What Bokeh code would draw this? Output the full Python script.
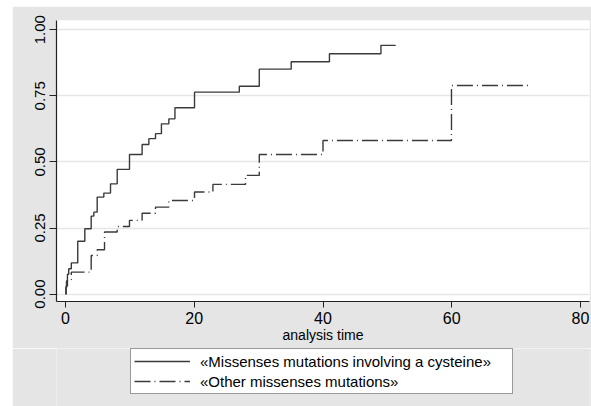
from bokeh.plotting import figure
from bokeh.models import Range1d, FixedTicker, Legend, LegendItem, Spacer
from bokeh.layouts import column, row
from bokeh.embed import file_html
from bokeh.resources import INLINE

# Data (Kaplan-Meier failure estimates)
cys_time = [0, 0.05, 0.15, 0.3, 0.5, 0.9, 1.9, 3.0, 3.99, 4.4, 4.92, 5.95, 6.99, 8.03,
            9.94, 11.9, 12.95, 13.98, 14.9, 16.05, 17.0, 20.04, 27.0, 30.1, 35.06,
            41.0, 49.0, 51.3]
cys_fail = [0, 0.025, 0.05, 0.075, 0.096, 0.118, 0.200, 0.247, 0.295, 0.31, 0.367,
            0.382, 0.417, 0.472, 0.528, 0.566, 0.588, 0.607, 0.644, 0.663, 0.705,
            0.764, 0.786, 0.851, 0.879, 0.909, 0.941, 0.941]
oth_time = [0, 0.1, 0.3, 0.9, 3.99, 4.92, 6.06, 8.03, 9.94, 11.9, 13.98, 16.05, 20.04,
            22.9, 27.96, 30.1, 40.0, 59.96, 72.2]
oth_fail = [0, 0.03, 0.055, 0.083, 0.146, 0.168, 0.235, 0.256, 0.279, 0.306, 0.329,
            0.354, 0.386, 0.415, 0.449, 0.528, 0.581, 0.789, 0.789]

x_ticks = [0, 20, 40, 60, 80]
y_ticks = [0, 0.25, 0.5, 0.75, 1.0]
y_tick_labels = ["0.00", "0.25", "0.50", "0.75", "1.00"]
x_label = "analysis time"
series_labels = ["«Missenses mutations involving a cysteine»", "«Other missenses mutations»"]

FONT = "Liberation Sans"
BG = "#e5e5e5"
LINE = "#3a3a3a"
DASH = "16 4 1 4"

p = figure(width=579, height=342, output_backend="svg", toolbar_location=None,
           x_range=Range1d(-1.4, 81.4), y_range=Range1d(-0.028, 1.035),
           min_border_left=44, min_border_right=2, min_border_top=14, min_border_bottom=47)
p.border_fill_color = BG
p.background_fill_color = "white"
p.outline_line_color = None

# grid
p.xgrid.grid_line_color = None
p.ygrid.grid_line_color = "#e6e6e6"
p.ygrid.grid_line_width = 1.5
p.ygrid.ticker = FixedTicker(ticks=y_ticks)

# axes
p.xaxis.ticker = FixedTicker(ticks=x_ticks)
p.yaxis.ticker = FixedTicker(ticks=y_ticks)
p.yaxis.major_label_overrides = {t: s for t, s in zip(y_ticks, y_tick_labels)}
p.yaxis.major_label_orientation = "vertical"
for ax in (p.xaxis, p.yaxis):
    ax.axis_line_color = "#222222"
    ax.axis_line_width = 1.2
    ax.major_tick_line_color = "#222222"
    ax.major_tick_in = 0
    ax.minor_tick_line_color = None
    ax.major_label_text_font = FONT
    ax.major_label_text_color = "black"
    ax.major_label_standoff = 4
p.xaxis.major_tick_out = 6
p.yaxis.major_tick_out = 7
p.xaxis.major_label_text_font_size = "16px"
p.yaxis.major_label_text_font_size = "15px"
p.xaxis.axis_label = x_label
p.xaxis.axis_label_text_font = FONT
p.xaxis.axis_label_text_font_size = "14px"
p.xaxis.axis_label_text_font_style = "normal"
p.xaxis.axis_label_text_color = "black"
p.xaxis.axis_label_standoff = 0

p.step(cys_time, cys_fail, mode="after", line_color=LINE, line_width=1.4)
p.step(oth_time, oth_fail, mode="after", line_color=LINE, line_width=1.4, line_dash=DASH)

# legend panel (separate figure below the plot)
q = figure(width=579, height=58, output_backend="svg", toolbar_location=None,
           x_range=Range1d(0, 1), y_range=Range1d(0, 1),
           min_border_left=0, min_border_right=0, min_border_top=0, min_border_bottom=0)
q.border_fill_color = BG
q.background_fill_color = BG
q.outline_line_color = None
q.axis.visible = False
q.grid.visible = False
nan = float("nan")
k1 = q.line([nan, nan], [nan, nan], line_color=LINE, line_width=1.4)
k2 = q.line([nan, nan], [nan, nan], line_color=LINE, line_width=1.4, line_dash=DASH)

legend = Legend(items=[LegendItem(label=series_labels[0], renderers=[k1]),
                       LegendItem(label=series_labels[1], renderers=[k2])],
                location=(74, 12))
legend.label_text_font = FONT
legend.label_text_font_size = "15px"
legend.label_text_color = "black"
legend.glyph_width = 56
legend.glyph_height = 18
legend.label_height = 18
legend.label_width = 309
legend.label_standoff = 10
legend.spacing = 2
legend.padding = 3
legend.margin = 0
legend.border_line_color = "#333333"
legend.border_line_width = 1
legend.background_fill_color = "white"
legend.background_fill_alpha = 1
q.add_layout(legend, "center")

layout = column(Spacer(height=6, width=591),
                row(Spacer(width=12, height=400), column(p, q, spacing=0), spacing=0),
                spacing=0)
layout.background = "white"

open("out.html", "w").write(file_html(layout, INLINE))
